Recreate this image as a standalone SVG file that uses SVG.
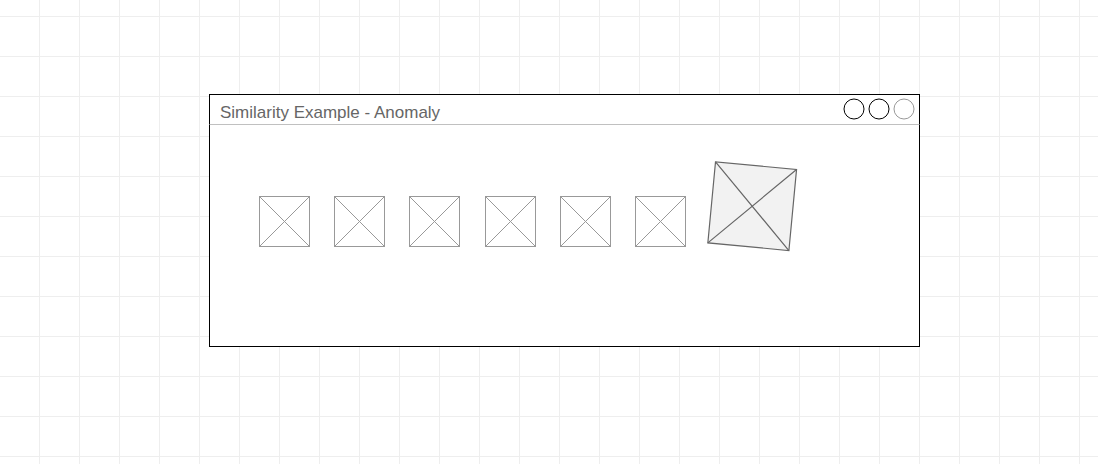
<svg xmlns="http://www.w3.org/2000/svg" width="1098" height="464" viewBox="0 0 1098 464">
  <defs>
    <pattern id="grid" x="-1" y="16" width="40" height="40" patternUnits="userSpaceOnUse">
      <path d="M 0.5 0 V 40 M 0 0.5 H 40" fill="none" stroke="#eeeeee" stroke-width="1"/>
    </pattern>
    <style>
      .ph { fill: #ffffff; stroke: #999999; stroke-width: 1; }
      .phx { stroke: #999999; stroke-width: 1; fill: none; }
      .big { fill: #f2f2f2; stroke: #666666; stroke-width: 1.2; }
      .bigx { stroke: #666666; stroke-width: 1.2; fill: none; }
      .title { font-family: "Liberation Sans", Arial, sans-serif; font-size: 17px; fill: #666666; }
    </style>
  </defs>
  <rect width="1098" height="464" fill="#ffffff"/>
  <rect width="1098" height="464" fill="url(#grid)"/>

  <g id="window">
    <rect x="209.5" y="94.5" width="710" height="252" fill="#ffffff" stroke="#000000" stroke-width="1"/>
    <line x1="209.5" y1="124.5" x2="919.5" y2="124.5" stroke="#c0c0c0" stroke-width="1"/>
    <text class="title" x="220" y="118.3">Similarity Example - Anomaly</text>
    <circle cx="854" cy="109" r="10" fill="#ffffff" stroke="#000000" stroke-width="1"/>
    <circle cx="879" cy="109" r="10" fill="#ffffff" stroke="#000000" stroke-width="1"/>
    <circle cx="904" cy="109" r="10" fill="#ffffff" stroke="#999999" stroke-width="1"/>
  </g>

  <g id="img1">
    <rect class="ph" x="259.5" y="196.5" width="50" height="50"/>
    <path class="phx" d="M259.5 196.5 L309.5 246.5 M309.5 196.5 L259.5 246.5"/>
  </g>
  <g id="img2">
    <rect class="ph" x="334.5" y="196.5" width="50" height="50"/>
    <path class="phx" d="M334.5 196.5 L384.5 246.5 M384.5 196.5 L334.5 246.5"/>
  </g>
  <g id="img3">
    <rect class="ph" x="409.5" y="196.5" width="50" height="50"/>
    <path class="phx" d="M409.5 196.5 L459.5 246.5 M459.5 196.5 L409.5 246.5"/>
  </g>
  <g id="img4">
    <rect class="ph" x="485.5" y="196.5" width="50" height="50"/>
    <path class="phx" d="M485.5 196.5 L535.5 246.5 M535.5 196.5 L485.5 246.5"/>
  </g>
  <g id="img5">
    <rect class="ph" x="560.5" y="196.5" width="50" height="50"/>
    <path class="phx" d="M560.5 196.5 L610.5 246.5 M610.5 196.5 L560.5 246.5"/>
  </g>
  <g id="img6">
    <rect class="ph" x="635.5" y="196.5" width="50" height="50"/>
    <path class="phx" d="M635.5 196.5 L685.5 246.5 M685.5 196.5 L635.5 246.5"/>
  </g>
  <g id="anomaly" transform="rotate(5.4 752.2 206.2)">
    <rect class="big" x="711.5" y="165.5" width="81.4" height="81.4"/>
    <path class="bigx" d="M711.5 165.5 L792.9 246.9 M792.9 165.5 L711.5 246.9"/>
  </g>
  <g id="connectors"/>
</svg>
